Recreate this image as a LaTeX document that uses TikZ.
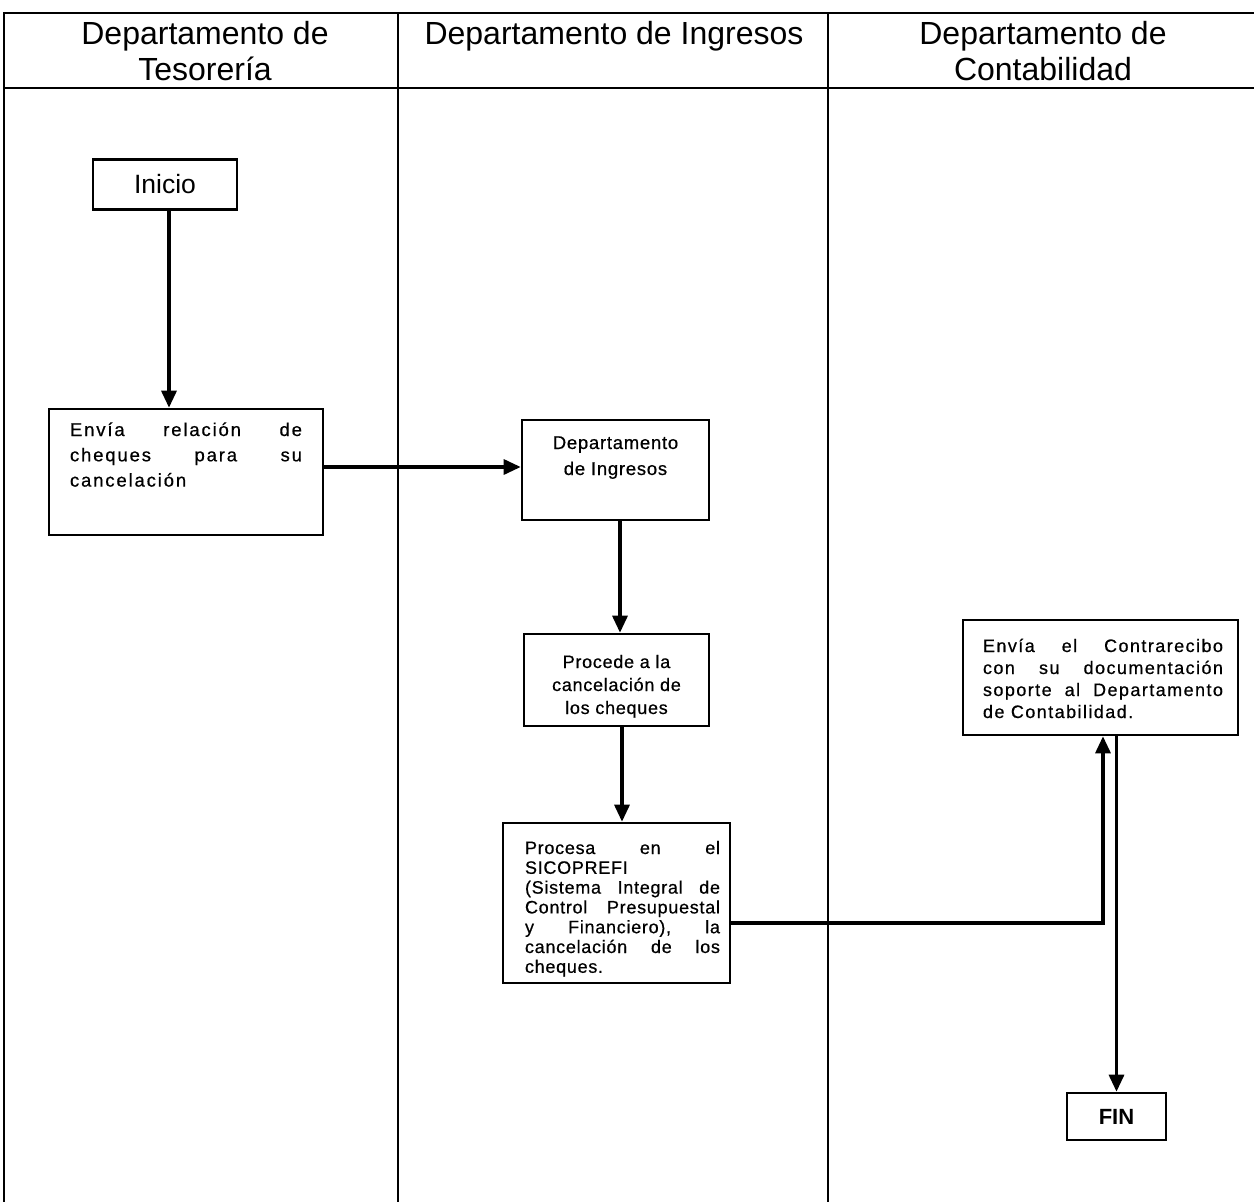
\documentclass[tikz,border=0pt]{standalone}
\usepackage{fontspec}
\setmainfont{Liberation Sans}
% letter-spaced, slightly heavier cuts used inside the process boxes
\newfontfamily\lsWide[LetterSpace=10,FakeBold=0.6]{Liberation Sans}
\newfontfamily\lsMid[LetterSpace=8,FakeBold=0.6]{Liberation Sans}
\newfontfamily\lsNorm[LetterSpace=4,FakeBold=0.6]{Liberation Sans}
\usetikzlibrary{arrows.meta}

\begin{document}
\begin{tikzpicture}[x=1pt,y=-1pt,
  lane/.style={line width=1.8pt},
  box/.style={draw, line width=2.6pt, inner sep=0pt, align=center},
  flow/.style={line width=3.2pt, -{Triangle[length=17pt,width=15pt]}},
  head/.style={anchor=north, inner sep=0pt, align=center,
    font=\fontsize{32}{36}\selectfont},
]
\useasboundingbox (0,0) rectangle (1254,1202);

% swimlane frame, header rule and lane dividers
\draw[lane] (4,13) rectangle (1262,1212);
\draw[lane] (4,88) -- (1262,88);
\draw[lane] (398,13) -- (398,1212);
\draw[lane] (828,13) -- (828,1212);

% lane titles
\node[head] (h1) at (205,21.6) {Departamento de\\Tesorería};
\node[head] (h2) at (614,21.6) {Departamento de Ingresos};
\node[head] (h3) at (1043,21.6) {Departamento de\\Contabilidad};

% process boxes
\node[box, minimum width=144pt, minimum height=50pt,
  font=\fontsize{26.5}{30}\selectfont] (inicio) at (165,184.5) {Inicio};

\node[box, inner xsep=21pt, inner ysep=8pt,
  font=\lsWide\fontsize{18.5}{25.3}\selectfont] (envia) at (186,472)
  {\parbox[t][110pt][t]{232pt}{\rule{0pt}{19pt}Envía\hfill relación\hfill de\\
   cheques\hfill para\hfill su\\cancelación}};

\node[box, inner xsep=0pt, inner ysep=8pt,
  font=\lsNorm\fontsize{18.5}{26}\selectfont] (dept) at (615.5,470)
  {\parbox[t][84pt][t]{187pt}{\centering\rule{0pt}{21pt}Departamento\\de Ingresos}};

\node[box, inner xsep=0pt, inner ysep=8pt,
  font=\lsNorm\fontsize{18}{23}\selectfont] (procede) at (616.5,680)
  {\parbox[t][76pt][t]{185pt}{\centering\rule{0pt}{26pt}Procede a la\\cancelación de\\los cheques}};

\node[box, inner xsep=0pt, inner ysep=8pt,
  font=\lsNorm\fontsize{18}{19.8}\selectfont] (procesa) at (616.5,903)
  {\hspace*{22pt}\parbox[t][144pt][t]{195pt}{\rule{0pt}{23pt}Procesa\hfill en\hfill el\\
   SICOPREFI\\
   (Sistema\hfill Integral\hfill de\\
   Control\hfill Presupuestal\\
   y\hfill Financiero),\hfill la\\
   cancelación\hfill de\hfill los\\
   cheques.}\hspace*{10pt}};

\node[box, inner xsep=0pt, inner ysep=8pt,
  font=\lsMid\fontsize{18}{22}\selectfont] (contra) at (1100.5,677.5)
  {\hspace*{20pt}\parbox[t][99pt][t]{240pt}{\rule{0pt}{24pt}Envía\hfill el\hfill Contrarecibo\\
   con\hfill su\hfill documentación\\
   soporte\hfill al\hfill Departamento\\
   de Contabilidad.}\hspace*{15pt}};

\node[box, minimum width=99pt, minimum height=47pt,
  font=\bfseries\fontsize{22}{25}\selectfont] (fin) at (1116.5,1116.5) {FIN};

% connectors
\draw[flow] ([xshift=4pt]inicio.south) -- ([xshift=4pt]inicio.south |- envia.north);
\draw[flow] ([yshift=5pt]envia.east) -- ([yshift=5pt]envia.east -| dept.west);
\draw[flow] ([xshift=4.5pt]dept.south) -- ([xshift=4.5pt]dept.south |- procede.north);
\draw[flow] ([xshift=5.5pt]procede.south) -- ([xshift=5.5pt]procede.south |- procesa.north);
\draw[flow] ([yshift=-20pt]procesa.east) -| ([xshift=2.5pt]contra.south);
\draw[flow] ([xshift=16pt]contra.south) -- ([xshift=16pt]contra.south |- fin.north);
\end{tikzpicture}
\end{document}
